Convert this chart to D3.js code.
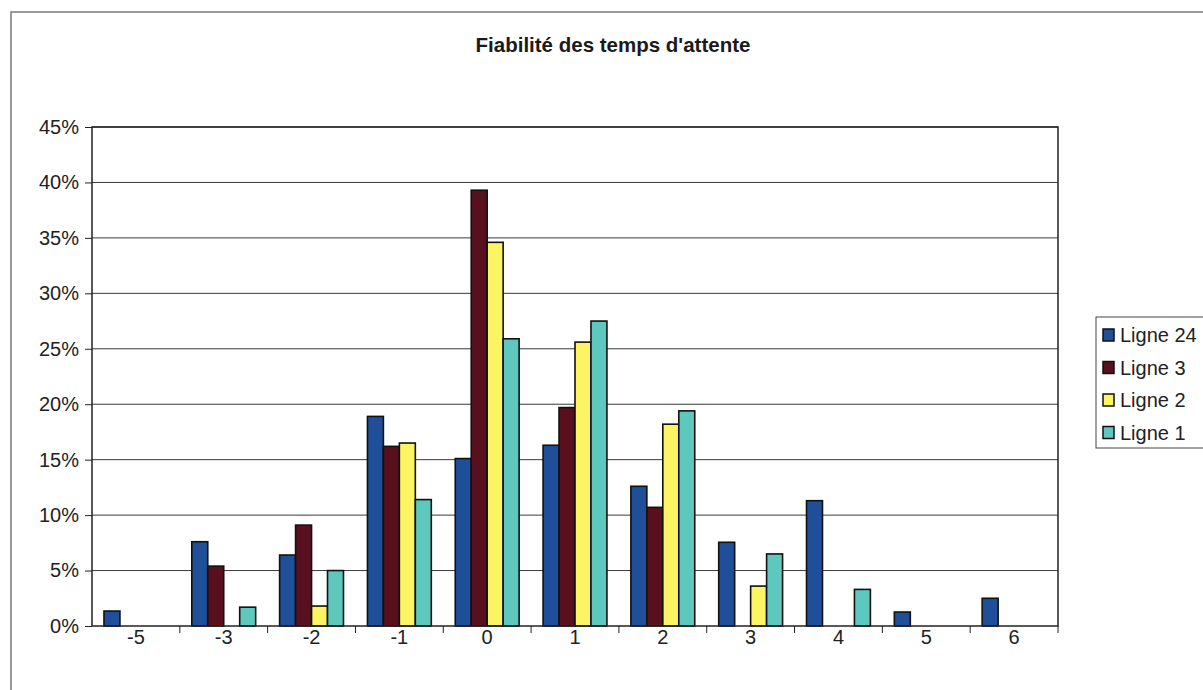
<!DOCTYPE html>
<html>
<head>
<meta charset="utf-8">
<script src="https://cdn.jsdelivr.net/npm/d3@7"></script>
<style>
  html, body { margin: 0; padding: 0; background: #fff; }
  svg { display: block; font-family: "Liberation Sans", Arial, sans-serif; }
</style>
</head>
<body>
<svg id="chart" width="1203" height="690"></svg>
<script>
// Écart (minutes) entre attente annoncée et attente réelle
const categories = ["-5", "-3", "-2", "-1", "0", "1", "2", "3", "4", "5", "6"];
const seriesNames = ["Ligne 24", "Ligne 3", "Ligne 2", "Ligne 1"];
const ligne24 = [1.35, 7.6, 6.4, 18.9, 15.1, 16.3, 12.6, 7.55, 11.3, 1.26, 2.5];
const ligne3  = [0, 5.4, 9.1, 16.2, 39.3, 19.7, 10.7, 0, 0, 0, 0];
const ligne2  = [0, 0, 1.8, 16.5, 34.6, 25.6, 18.2, 3.6, 0, 0, 0];
const ligne1  = [0, 1.7, 5.0, 11.4, 25.9, 27.5, 19.4, 6.5, 3.3, 0, 0];
const yTicks = [0, 5, 10, 15, 20, 25, 30, 35, 40, 45];
const colors = ["#1f4f98", "#58101f", "#fbf463", "#5ec8bf"];

const seriesValues = [ligne24, ligne3, ligne2, ligne1];

const svg = d3.select("#chart");
const plot = { left: 92, right: 1058, top: 127, bottom: 626 };

// Cadre extérieur du graphique
svg.append("path")
  .attr("d", `M11,700 L11,12 L1210,12`)
  .attr("fill", "none").attr("stroke", "#7a7a7a").attr("stroke-width", 1.5);

// Titre
svg.append("text")
  .attr("x", 613).attr("y", 52)
  .attr("text-anchor", "middle")
  .attr("font-size", 20.5).attr("font-weight", "bold")
  .attr("fill", "#1a1a1a")
  .text("Fiabilité des temps d'attente");

const x = d3.scaleBand().domain(categories).range([plot.left, plot.right]).paddingInner(0).paddingOuter(0);
const groupWidth = x.bandwidth() * 4 / 5.5;
const xs = d3.scaleBand().domain(seriesNames).range([0, groupWidth]);
const y = d3.scaleLinear().domain([0, 45]).range([plot.bottom, plot.top]);

// Quadrillage horizontal
svg.append("g").selectAll("line").data(yTicks.filter(t => t > 0)).join("line")
  .attr("x1", plot.left).attr("x2", plot.right)
  .attr("y1", d => y(d)).attr("y2", d => y(d))
  .attr("stroke", "#3a3a3a").attr("stroke-width", 1);

// Axe Y
const yAxis = svg.append("g").attr("transform", `translate(${plot.left},0)`)
  .call(d3.axisLeft(y).tickValues(yTicks).tickFormat(d => d + "%").tickSize(7).tickPadding(6));
yAxis.select(".domain").remove();
yAxis.selectAll("line").attr("stroke", "#222");
yAxis.selectAll("text").attr("font-size", 20).attr("fill", "#222")
  .attr("font-family", "Liberation Sans, Arial, sans-serif");

// Barres
const groups = svg.append("g").selectAll("g").data(categories).join("g")
  .attr("transform", d => `translate(${x(d) + (x.bandwidth() - groupWidth) / 2},0)`);
groups.selectAll("rect")
  .data((c, i) => seriesNames.map((s, k) => ({ s, k, v: seriesValues[k][i] })).filter(d => d.v > 0))
  .join("rect")
  .attr("x", d => xs(d.s))
  .attr("width", xs.bandwidth())
  .attr("y", d => y(d.v))
  .attr("height", d => y(0) - y(d.v))
  .attr("fill", d => colors[d.k])
  .attr("stroke", "#111").attr("stroke-width", 1.6);

// Cadre de la zone de traçage
svg.append("rect")
  .attr("x", plot.left).attr("y", plot.top)
  .attr("width", plot.right - plot.left).attr("height", plot.bottom - plot.top)
  .attr("fill", "none").attr("stroke", "#222").attr("stroke-width", 1.5);

// Axe X : graduations aux limites des catégories
const boundaries = categories.slice(1).map(c => x(c)).concat([plot.right]);
svg.append("g").selectAll("line").data(boundaries).join("line")
  .attr("x1", d => d).attr("x2", d => d)
  .attr("y1", plot.bottom).attr("y2", plot.bottom + 7)
  .attr("stroke", "#222");
svg.append("g").selectAll("text").data(categories).join("text")
  .attr("x", d => x(d) + x.bandwidth() / 2)
  .attr("y", 644)
  .attr("text-anchor", "middle")
  .attr("font-size", 20).attr("fill", "#222")
  .text(d => d);

// Légende
const legend = svg.append("g").attr("transform", "translate(1096,317)");
legend.append("rect").attr("x", 0).attr("y", 0).attr("width", 130).attr("height", 131)
  .attr("fill", "#fff").attr("stroke", "#444").attr("stroke-width", 1);
const items = legend.selectAll("g.item").data(seriesNames).join("g")
  .attr("class", "item")
  .attr("transform", (d, i) => `translate(0,${18 + i * 32.5})`);
items.append("rect").attr("x", 7).attr("y", -6).attr("width", 11).attr("height", 12)
  .attr("fill", (d, i) => colors[i]).attr("stroke", "#111").attr("stroke-width", 1.5);
items.append("text").attr("x", 24).attr("y", 7)
  .attr("font-size", 20).attr("fill", "#222")
  .text(d => d);
</script>
</body>
</html>
